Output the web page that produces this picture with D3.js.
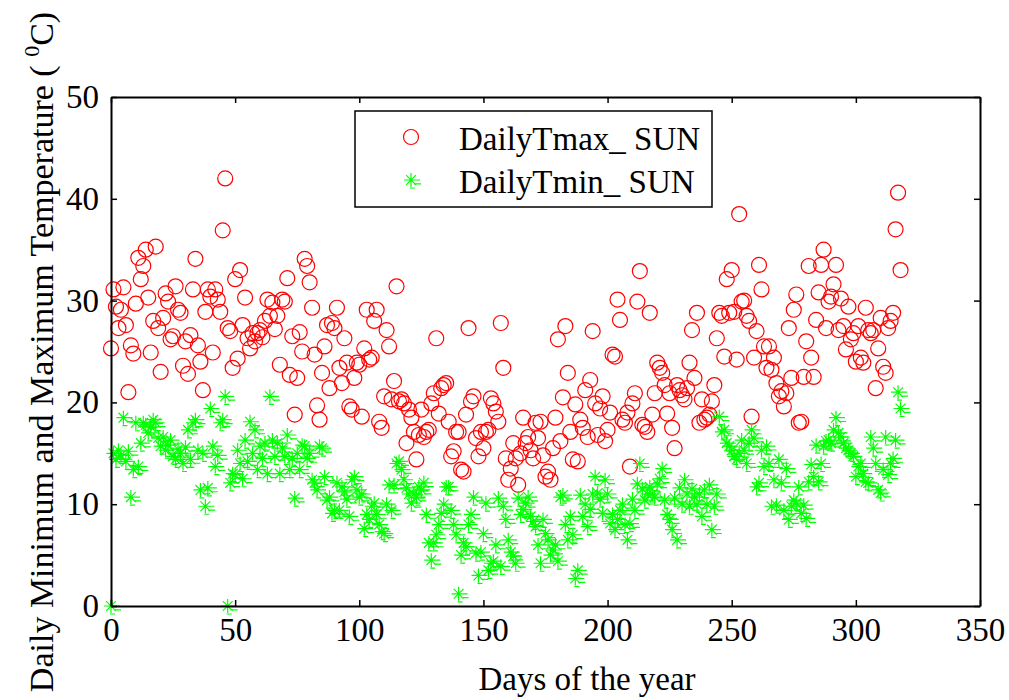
<!DOCTYPE html>
<html>
<head>
<meta charset="utf-8">
<script src="https://cdn.jsdelivr.net/npm/d3@7"></script>
<style>
  html, body { margin: 0; padding: 0; background: #fff; }
  svg { display: block; }
  text { font-family: "Liberation Serif", "Times New Roman", serif; fill: #000; }
</style>
</head>
<body>
<svg id="chart" width="1009" height="700"></svg>
<script>
// ---- data (day index = position in array, starting at day 0) ----
const tmax = [
  25.3, 31.1, 29.4, 27.3, 29.1, 31.3, 27.6, 21.0, 25.6, 24.8,
  29.7, 34.2, 32.1, 33.4, 35.0, 30.3, 24.9, 28.0, 35.3, 27.3,
  23.0, 28.3, 30.7, 29.9, 26.2, 26.5, 31.4, 29.1, 28.8, 23.6,
  26.0, 22.8, 26.6, 31.1, 34.1, 25.6, 24.0, 21.2, 28.9, 31.1,
  30.4, 24.9, 31.1, 30.1, 28.9, 36.9, 42.0, 27.3, 27.0, 23.4,
  32.1, 24.3, 33.0, 27.6, 30.3, 26.3, 25.3, 26.8, 26.0, 26.8,
  27.1, 26.4, 28.0, 30.1, 28.5, 29.8, 27.2, 28.5, 23.7, 30.1,
  29.9, 32.2, 22.7, 26.5, 18.8, 22.4, 26.9, 25.0, 34.1, 33.4,
  31.8, 29.3, 24.7, 19.7, 18.3, 22.9, 25.5, 27.6, 21.4, 27.8,
  27.3, 29.3, 23.4, 21.9, 26.3, 23.9, 19.6, 19.3, 22.4, 23.9,
  23.7, 18.6, 25.3, 29.1, 24.2, 24.4, 28.0, 29.1, 18.1, 17.5,
  20.6, 27.1, 25.5, 20.3, 22.1, 31.4, 20.1, 20.3, 19.9, 16.0,
  19.3, 18.5, 17.1, 14.4, 16.8, 19.3, 16.6, 17.1, 17.3, 19.9,
  20.9, 26.3, 18.9, 21.4, 21.7, 21.9, 18.1, 14.7, 15.2, 17.1,
  17.1, 13.4, 13.2, 18.8, 27.3, 20.1, 20.6, 16.5, 14.7, 17.1,
  15.5, 17.1, 17.3, 20.4, 19.9, 19.1, 18.1, 27.8, 23.4, 14.5,
  12.4, 13.5, 16.0, 14.5, 11.9, 15.0, 18.5, 16.0, 16.6, 15.3,
  14.5, 18.0, 16.5, 18.1, 14.8, 12.7, 13.2, 12.4, 15.5, 18.5,
  26.2, 16.2, 20.5, 27.5, 22.9, 17.1, 14.4, 19.8, 14.2, 18.3,
  17.5, 21.2, 16.6, 22.2, 27.0, 19.9, 16.8, 19.4, 20.6, 16.2,
  17.3, 19.0, 24.7, 24.5, 30.1, 28.1, 18.3, 18.0, 19.0, 13.7,
  19.9, 20.9, 29.9, 32.9, 17.8, 17.6, 17.1, 28.8, 18.8, 20.9,
  23.9, 23.4, 22.9, 21.7, 18.9, 20.9, 17.5, 15.5, 21.7, 21.2,
  20.7, 20.3, 21.4, 23.9, 27.1, 22.4, 28.8, 18.0, 20.3, 18.3,
  18.5, 18.8, 20.1, 21.7, 26.3, 28.8, 28.5, 24.5, 32.1, 28.8,
  33.0, 28.9, 24.2, 38.5, 29.9, 30.0, 28.5, 28.0, 18.6, 24.4,
  27.0, 33.5, 31.1, 25.5, 23.4, 25.5, 23.2, 24.4, 21.9, 20.6,
  21.1, 19.6, 20.9, 27.3, 22.4, 29.1, 30.6, 18.0, 18.1, 22.5,
  26.0, 33.4, 24.4, 22.5, 28.1, 30.8, 33.5, 35.0, 27.3, 29.9,
  30.4, 31.6, 33.5, 27.1, 30.2, 27.5, 25.2, 29.4, 26.2, 26.8,
  24.0, 27.5, 24.4, 23.9, 29.3, 27.1, 26.8, 27.1, 21.4, 25.3,
  28.3, 23.5, 22.9, 27.3, 28.0, 28.8, 37.0, 40.6, 33.0
];
const tmin = [
   0.0, 15.0, 14.4, 15.3, 14.8, 18.5, 14.2, 15.2, 10.7, 13.4,
  18.0, 13.7, 16.0, 18.0, 17.8, 17.0, 17.6, 18.3, 18.0, 16.5,
  15.7, 16.6, 15.3, 15.8, 16.3, 14.7, 14.4, 15.4, 15.0, 14.0,
  15.6, 17.3, 14.4, 18.0, 18.3, 15.3, 11.4, 15.0,  9.8, 11.6,
  19.4, 15.7, 13.7, 14.8, 18.0, 18.3, 20.6,  0.0, 12.1, 13.0,
  12.9, 15.3, 14.0, 12.5, 16.3, 14.2, 18.1, 15.0, 17.3, 13.4,
  15.7, 14.5, 16.0, 13.0, 20.6, 16.3, 14.7, 16.0, 13.0, 15.5,
  14.7, 16.8, 13.4, 14.5, 10.6, 15.0, 13.4, 15.8, 15.7, 14.5,
  15.0, 12.4, 12.1, 11.4, 15.7, 15.5, 12.7, 10.4, 10.7,  9.1,
   9.4, 12.1,  9.4, 11.7, 11.2, 10.5,  8.8, 12.4, 12.7, 11.4,
  10.7, 11.0,  7.6,  9.0,  8.5,  9.8, 10.1,  9.0,  8.0,  7.3,
   7.1, 10.0, 11.9,  9.4, 11.9, 14.0, 14.2, 13.4, 12.4, 11.6,
  11.0, 10.1, 11.0, 10.7, 11.7, 11.4, 12.1,  9.0,  6.2,  4.5,
   6.2,  7.0,  8.0,  9.1, 10.0, 11.7, 11.7,  9.4,  8.0,  7.0,
   1.2,  5.0,  6.2,  5.8,  8.0,  9.0, 10.7,  5.2,  3.0,  5.3,
   7.1, 10.1,  3.5,  4.2,  4.4,  6.0, 10.6,  3.9,  9.8,  8.5,
   6.5,  5.3,  4.9,  4.2, 10.6,  9.0,  9.5, 10.1, 10.7,  8.8,
   8.3,  7.8,  6.0,  4.2,  8.5,  7.1,  6.5,  5.0,  5.5,  6.0,
   4.4, 10.7, 10.9,  8.0,  6.5,  8.8,  7.0,  2.7,  3.5, 10.9,
   8.8, 10.0,  7.8,  9.5, 11.0, 12.7, 11.1, 10.5,  9.1, 12.4,
  11.0,  8.1,  9.0,  7.5,  8.5,  9.4, 10.0,  8.0,  6.5,  8.1,
  10.5,  9.4, 12.0, 14.0, 11.5, 10.4, 11.0, 11.7, 11.0, 10.7,
  12.0, 12.5, 13.5, 10.4,  9.0,  8.5,  7.5, 10.6,  6.5, 11.6,
  10.0, 12.4, 11.0,  9.8, 11.5, 10.7, 10.0, 11.0,  8.8, 11.4,
  10.0, 11.9,  7.5,  9.8, 11.0, 18.6, 17.1, 17.3, 16.0, 15.7,
  15.3, 14.7, 14.4, 15.0, 16.3, 15.3, 14.0, 16.0, 17.3, 16.5,
  11.7, 12.1, 15.3, 13.7, 15.7, 14.0,  9.8, 12.4,  9.9, 14.4,
  12.1,  9.4, 13.5,  8.5,  9.8, 10.4, 10.1, 11.7,  9.1,  9.9,
   8.6, 12.2, 13.9, 12.7, 15.8, 12.2, 14.0, 15.7, 16.2, 16.3,
  16.0, 17.3, 18.5, 17.0, 16.6, 16.0, 15.5, 15.3, 15.0, 14.7,
  12.7, 13.7, 14.0, 13.0, 12.2, 12.1, 16.6, 15.5, 14.0, 11.4,
  11.1, 13.4, 16.6, 12.9, 14.0, 14.5, 16.3, 21.0, 19.4
];
const xTicks = [0, 50, 100, 150, 200, 250, 300, 350];
const yTicks = [0, 10, 20, 30, 40, 50];
const seriesNames = ["DailyTmax_ SUN", "DailyTmin_ SUN"];
const xLabel = "Days of the year";
const yLabelMain = "Daily Minimum and Maximum Temperature ( ";
const yLabelSup = "0";
const yLabelEnd = "C)";

// ---- layout ----
const L = 111, R = 980, T = 97, B = 606;
const FONT = '"Liberation Serif", "Times New Roman", serif';
const svg = d3.select("#chart");
const x = d3.scaleLinear().domain([0, 350]).range([L, R]);
const y = d3.scaleLinear().domain([0, 50]).range([B, T]);
const FS = 33;
const RED = "#ff0000", GREEN = "#00ff00";

// markers
const tmaxPts = tmax.map((v, i) => ({ d: i, v }));
const tminPts = tmin.map((v, i) => ({ d: i, v }));

svg.append("g").selectAll("circle").data(tmaxPts).join("circle")
  .attr("cx", p => x(p.d)).attr("cy", p => y(p.v)).attr("r", 7.5)
  .attr("fill", "none").attr("stroke", RED).attr("stroke-width", 1.2);

const sr = 7;
const starPath = `M${-sr},0H${sr + 2}M0,${-sr}V${sr}M${-sr * 0.7},${-sr * 0.7}L${sr * 0.7},${sr * 0.7}M${-sr * 0.7},${sr * 0.7}L${sr * 0.7},${-sr * 0.7}` +
  `M${sr * 0.4},${sr * 0.55}H${sr + 3}M${-1},${sr + 1}H${4}`;
svg.append("g").selectAll("path").data(tminPts).join("path")
  .attr("transform", p => `translate(${x(p.d)},${y(p.v)})`)
  .attr("d", starPath)
  .attr("fill", "none").attr("stroke", GREEN).attr("stroke-width", 1.2);

// axes box
const axisColor = "#000";
const axB = d3.axisBottom(x).tickValues(xTicks).tickSizeInner(-6).tickSizeOuter(0).tickPadding(12);
const axT = d3.axisTop(x).tickValues(xTicks).tickSizeInner(-6).tickSizeOuter(0).tickFormat("");
const axL = d3.axisLeft(y).tickValues(yTicks).tickSizeInner(-6).tickSizeOuter(0).tickPadding(12);
const axR = d3.axisRight(y).tickValues(yTicks).tickSizeInner(-6).tickSizeOuter(0).tickFormat("");

function styleAxis(g) {
  g.attr("font-family", null).attr("font-size", null);
  g.selectAll(".domain").attr("stroke", axisColor).attr("stroke-width", 2);
  g.selectAll(".tick line").attr("stroke", axisColor).attr("stroke-width", 1.5);
  g.selectAll(".tick text").style("font-size", FS + "px")
    .style("font-family", FONT).attr("fill", "#000");
}
svg.append("g").attr("transform", `translate(0,${B})`).call(axB).call(styleAxis);
svg.append("g").attr("transform", `translate(0,${T})`).call(axT).call(styleAxis);
svg.append("g").attr("transform", `translate(${L},0)`).call(axL).call(styleAxis);
svg.append("g").attr("transform", `translate(${R},0)`).call(axR).call(styleAxis);

// axis labels
svg.append("text").attr("x", 587).attr("y", 690).attr("text-anchor", "middle")
  .style("font-size", FS + "px").text(xLabel);

const yl = svg.append("text")
  .attr("transform", `translate(53,352) rotate(-90)`)
  .attr("text-anchor", "middle").style("font-size", "34px");
yl.append("tspan").text(yLabelMain);
yl.append("tspan").style("font-size", "22px").attr("dy", -14).text(yLabelSup);
yl.append("tspan").attr("dy", 14).text(yLabelEnd);

// legend
const lg = svg.append("g");
lg.append("rect").attr("x", 355).attr("y", 111).attr("width", 357).attr("height", 96)
  .attr("fill", "#fff").attr("stroke", "#000").attr("stroke-width", 1.5);
lg.append("circle").attr("cx", 411).attr("cy", 137).attr("r", 7.5)
  .attr("fill", "none").attr("stroke", RED).attr("stroke-width", 1.2);
lg.append("path").attr("transform", "translate(411,180)").attr("d", starPath)
  .attr("fill", "none").attr("stroke", GREEN).attr("stroke-width", 1.2);
lg.append("text").attr("x", 459).attr("y", 150).style("font-size", "33px").text(seriesNames[0]);
lg.append("text").attr("x", 459).attr("y", 193).style("font-size", "33px").text(seriesNames[1]);
</script>
</body>
</html>
